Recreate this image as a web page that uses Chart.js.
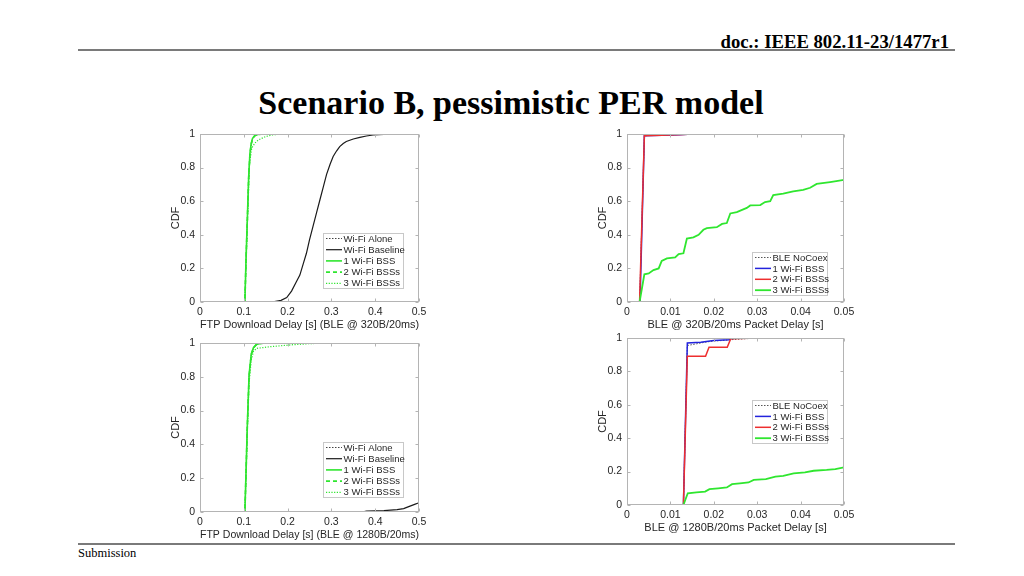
<!DOCTYPE html>
<html>
<head>
<meta charset="utf-8">
<script src="https://cdn.jsdelivr.net/npm/chart.js@4.4.1/dist/chart.umd.min.js"></script>
<style>
  html, body { margin: 0; padding: 0; background: #fff; }
  body { width: 1024px; height: 576px; position: relative; overflow: hidden; }
  .serif { font-family: "Liberation Serif", "Times New Roman", serif; color: #000; position: absolute; white-space: nowrap; line-height: 1; }
  .hdr { right: 75px; top: 33px; font-size: 18.7px; font-weight: bold; }
  .title { left: 511px; top: 86px; font-size: 34px; font-weight: bold; transform: translateX(-50%); }
  .foot { left: 78px; top: 547px; font-size: 12.5px; }
  .rule { position: absolute; left: 78px; width: 877px; height: 2px; background: #7a7a7a; }
  canvas { position: absolute; }
</style>
</head>
<body>
<div class="serif hdr">doc.: IEEE 802.11-23/1477r1</div>
<div class="rule" style="top:49px"></div>
<div class="serif title">Scenario B, pessimistic PER model</div>
<div class="rule" style="top:543px"></div>
<div class="serif foot">Submission</div>

<canvas id="c1"></canvas>
<canvas id="c2"></canvas>
<canvas id="c3"></canvas>
<canvas id="c4"></canvas>

<script>
// ---------------- DATA ----------------
// Tick values / labels
const ftpTicks = [0, 0.1, 0.2, 0.3, 0.4, 0.5];
const ftpTickLabels = ['0', '0.1', '0.2', '0.3', '0.4', '0.5'];
const bleTicks = [0, 0.01, 0.02, 0.03, 0.04, 0.05];
const bleTickLabels = ['0', '0.01', '0.02', '0.03', '0.04', '0.05'];
const cdfTicks = [0, 0.2, 0.4, 0.6, 0.8, 1];
const cdfTickLabels = ['0', '0.2', '0.4', '0.6', '0.8', '1'];

// Series names
const ftpSeries = ['Wi-Fi Alone', 'Wi-Fi Baseline', '1 Wi-Fi BSS', '2 Wi-Fi BSSs', '3 Wi-Fi BSSs'];
const bleSeries = ['BLE NoCoex', '1 Wi-Fi BSS', '2 Wi-Fi BSSs', '3 Wi-Fi BSSs'];

// Axis titles
const xTitleTL = 'FTP Download Delay [s] (BLE @ 320B/20ms)';
const xTitleTR = 'BLE @ 320B/20ms Packet Delay [s]';
const xTitleBL = 'FTP Download Delay [s] (BLE @ 1280B/20ms)';
const xTitleBR = 'BLE @ 1280B/20ms Packet Delay [s]';
const yTitle = 'CDF';

// --- Top-left: FTP delay, BLE @ 320B/20ms ---
const tlAloneX = [0, 0.1025, 0.105, 0.108, 0.111, 0.114, 0.117, 0.12, 0.125, 0.132, 0.145, 0.5];
const tlAloneY = [0, 0, 0.24, 0.48, 0.72, 0.87, 0.94, 0.97, 0.99, 0.997, 1, 1];
const tlBaseX = [0, 0.15, 0.17, 0.185, 0.198, 0.209, 0.22, 0.228, 0.236, 0.243, 0.25, 0.258, 0.266, 0.274, 0.282, 0.289, 0.297, 0.304, 0.312, 0.319, 0.327, 0.334, 0.35, 0.365, 0.38, 0.395, 0.42, 0.44, 0.5];
const tlBaseY = [0, 0, 0.003, 0.01, 0.026, 0.065, 0.12, 0.16, 0.23, 0.29, 0.37, 0.45, 0.53, 0.61, 0.69, 0.76, 0.82, 0.866, 0.9, 0.925, 0.943, 0.955, 0.97, 0.98, 0.988, 0.994, 0.998, 1, 1];
const tl1X = [0, 0.1025, 0.105, 0.108, 0.111, 0.114, 0.117, 0.12, 0.125, 0.132, 0.145, 0.5];
const tl1Y = [0, 0, 0.25, 0.49, 0.74, 0.885, 0.945, 0.974, 0.99, 0.997, 1, 1];
const tl2X = [0, 0.1025, 0.105, 0.108, 0.111, 0.114, 0.117, 0.12, 0.125, 0.132, 0.145, 0.5];
const tl2Y = [0, 0, 0.24, 0.48, 0.73, 0.88, 0.94, 0.972, 0.99, 0.997, 1, 1];
const tl3X = [0, 0.1025, 0.105, 0.108, 0.113, 0.118, 0.125, 0.133, 0.149, 0.164, 0.19, 0.5];
const tl3Y = [0, 0, 0.22, 0.45, 0.82, 0.915, 0.945, 0.964, 0.984, 0.994, 1, 1];

// --- Top-right: BLE packet delay @ 320B/20ms ---
const trNoCoexX = [0, 0.0029, 0.004, 0.006, 0.01, 0.0146, 0.05];
const trNoCoexY = [0, 0, 0.99, 0.992, 0.995, 1, 1];
const tr1X = [0, 0.003, 0.004, 0.008, 0.012, 0.015, 0.05];
const tr1Y = [0, 0, 0.99, 0.993, 0.996, 1, 1];
const tr2X = [0, 0.0029, 0.004, 0.008, 0.013, 0.015, 0.05];
const tr2Y = [0, 0, 0.99, 0.993, 0.997, 1, 1];
const tr3X = [0, 0.0029, 0.004, 0.005, 0.0061, 0.0073, 0.008, 0.0092, 0.0111, 0.0119, 0.013, 0.0138, 0.0153, 0.0165, 0.0176, 0.0184, 0.0207, 0.0219, 0.023, 0.0238, 0.0253, 0.0276, 0.0284, 0.0307, 0.0318, 0.033, 0.0337, 0.036, 0.0383, 0.0406, 0.0422, 0.0437, 0.0468, 0.05];
const tr3Y = [0, 0, 0.165, 0.17, 0.19, 0.2, 0.245, 0.26, 0.265, 0.285, 0.29, 0.378, 0.385, 0.4, 0.43, 0.44, 0.445, 0.465, 0.47, 0.527, 0.535, 0.56, 0.575, 0.577, 0.595, 0.6, 0.636, 0.645, 0.658, 0.668, 0.68, 0.703, 0.714, 0.727];

// --- Bottom-left: FTP delay, BLE @ 1280B/20ms ---
const blAloneX = [0, 0.1025, 0.105, 0.108, 0.112, 0.117, 0.122, 0.128, 0.135, 0.15, 0.5];
const blAloneY = [0, 0, 0.22, 0.5, 0.8, 0.93, 0.97, 0.988, 0.996, 1, 1];
const blBaseX = [0, 0.37, 0.38, 0.42, 0.45, 0.465, 0.475, 0.49, 0.5];
const blBaseY = [0, 0, 0.005, 0.008, 0.014, 0.02, 0.03, 0.045, 0.055];
const bl1X = [0, 0.1025, 0.105, 0.108, 0.112, 0.117, 0.122, 0.128, 0.135, 0.15, 0.5];
const bl1Y = [0, 0, 0.23, 0.51, 0.81, 0.935, 0.972, 0.99, 0.997, 1, 1];
const bl2X = [0, 0.1025, 0.105, 0.108, 0.112, 0.117, 0.122, 0.128, 0.135, 0.15, 0.5];
const bl2Y = [0, 0, 0.22, 0.5, 0.8, 0.93, 0.97, 0.988, 0.996, 1, 1];
const bl3X = [0, 0.1025, 0.105, 0.108, 0.112, 0.117, 0.122, 0.129, 0.16, 0.213, 0.25, 0.29, 0.5];
const bl3Y = [0, 0, 0.2, 0.47, 0.76, 0.9, 0.95, 0.968, 0.978, 0.99, 0.996, 1, 1];

// --- Bottom-right: BLE packet delay @ 1280B/20ms ---
const brNoCoexX = [0, 0.013, 0.0139, 0.016, 0.018, 0.02, 0.022, 0.024, 0.027, 0.03, 0.05];
const brNoCoexY = [0, 0, 0.955, 0.965, 0.975, 0.982, 0.985, 0.99, 0.995, 1, 1];
const br1X = [0, 0.013, 0.0139, 0.017, 0.02, 0.0235, 0.024, 0.026, 0.05];
const br1Y = [0, 0, 0.97, 0.975, 0.985, 0.99, 0.997, 1, 1];
const br2X = [0, 0.013, 0.0139, 0.0181, 0.0189, 0.0231, 0.0239, 0.03, 0.05];
const br2Y = [0, 0, 0.89, 0.89, 0.945, 0.945, 0.995, 1, 1];
const br3X = [0, 0.013, 0.014, 0.016, 0.018, 0.019, 0.021, 0.023, 0.0242, 0.026, 0.028, 0.0292, 0.032, 0.0342, 0.036, 0.0384, 0.041, 0.043, 0.046, 0.048, 0.05];
const br3Y = [0, 0, 0.07, 0.075, 0.08, 0.095, 0.1, 0.105, 0.125, 0.13, 0.135, 0.15, 0.155, 0.17, 0.175, 0.19, 0.195, 0.205, 0.21, 0.215, 0.225];

// ---------------- STYLE / LAYOUT ----------------
const FONT = '"Liberation Sans", Arial, Helvetica, sans-serif';
const TXT = '#262626';
const FRAME = '#b4b4b4';
const GREEN = '#2fe62f';
const BLUE = '#2323dc';
const RED = '#ee2e2e';

const ftpStyles = [
  { borderColor: '#444444', borderWidth: 1, borderDash: [1.5, 1.5] },
  { borderColor: '#1a1a1a', borderWidth: 1.2, borderDash: [] },
  { borderColor: GREEN, borderWidth: 1.6, borderDash: [] },
  { borderColor: GREEN, borderWidth: 1.6, borderDash: [4, 3] },
  { borderColor: GREEN, borderWidth: 1.2, borderDash: [1.2, 1.5] }
];
const bleStyles = [
  { borderColor: '#555555', borderWidth: 1, borderDash: [1.5, 1.5] },
  { borderColor: BLUE, borderWidth: 1.5, borderDash: [] },
  { borderColor: RED, borderWidth: 1.5, borderDash: [] },
  { borderColor: GREEN, borderWidth: 1.8, borderDash: [] }
];

const Y_W = 34, PT = 12, PR = 16, X_H = 32;

function pts(xs, ys) { return xs.map((x, i) => ({ x: x, y: ys[i] })); }

const framePlugin = {
  id: 'matlabFrame',
  afterDatasetsDraw(chart, args, opts) {
    const { ctx, chartArea: a, scales } = chart;
    ctx.save();
    ctx.strokeStyle = FRAME;
    ctx.lineWidth = 1;
    ctx.setLineDash([]);
    const L = Math.round(a.left) + 0.5, R = Math.round(a.right) - 0.5;
    const T = Math.round(a.top) + 0.5, B = Math.round(a.bottom) - 0.5;
    ctx.strokeRect(L, T, R - L, B - T);
    const tl = 3;
    ctx.beginPath();
    scales.x.ticks.forEach(t => {
      const px = Math.round(scales.x.getPixelForValue(t.value)) + 0.5;
      ctx.moveTo(px, B); ctx.lineTo(px, B - tl);
      ctx.moveTo(px, T); ctx.lineTo(px, T + tl);
    });
    scales.y.ticks.forEach(t => {
      const py = Math.round(scales.y.getPixelForValue(t.value)) + 0.5;
      ctx.moveTo(L, py); ctx.lineTo(L + tl, py);
      ctx.moveTo(R, py); ctx.lineTo(R - tl, py);
    });
    ctx.stroke();

    // MATLAB-style legend inside the axes
    const lg = opts.legend;
    if (lg) {
      const bx = Math.round(a.left + lg.x) + 0.5, by = Math.round(a.top + lg.y) + 0.5;
      ctx.fillStyle = '#ffffff';
      ctx.fillRect(bx, by, lg.w, lg.h);
      ctx.strokeStyle = '#c8c8c8';
      ctx.lineWidth = 1;
      ctx.strokeRect(bx, by, lg.w, lg.h);
      ctx.font = lg.fontSize + 'px ' + FONT;
      ctx.textBaseline = 'middle';
      ctx.textAlign = 'left';
      chart.data.datasets.forEach((ds, i) => {
        const cy = by + lg.first + i * lg.row;
        ctx.strokeStyle = ds.borderColor;
        ctx.lineWidth = ds.borderWidth;
        ctx.setLineDash(ds.borderDash || []);
        ctx.beginPath();
        ctx.moveTo(bx + 2.5, cy);
        ctx.lineTo(bx + 18.5, cy);
        ctx.stroke();
        ctx.setLineDash([]);
        ctx.fillStyle = TXT;
        ctx.fillText(ds.label, bx + 20, cy + 0.5);
      });
    }
    ctx.restore();
  }
};

function makeChart(id, rect, xTicks, xLabels, xTitle, names, styles, series, legend) {
  const cv = document.getElementById(id);
  const w = (rect[2] - rect[0]) + Y_W + PR;
  const h = (rect[3] - rect[1]) + PT + X_H;
  cv.width = w; cv.height = h;
  cv.style.left = (rect[0] - Y_W) + 'px';
  cv.style.top = (rect[1] - PT) + 'px';
  cv.style.width = w + 'px';
  cv.style.height = h + 'px';
  const n = names.length;
  const datasets = names.map((name, i) => Object.assign({
    label: name,
    data: pts(series[i][0], series[i][1]),
    pointRadius: 0,
    tension: 0,
    fill: false,
    order: n - i
  }, styles[i]));
  return new Chart(cv, {
    type: 'line',
    data: { datasets: datasets },
    options: {
      responsive: false,
      animation: false,
      devicePixelRatio: 1,
      layout: { padding: { left: 0, top: PT, right: PR, bottom: 0 } },
      plugins: {
        legend: { display: false },
        tooltip: { enabled: false },
        matlabFrame: { legend: legend }
      },
      scales: {
        x: {
          type: 'linear',
          min: xTicks[0], max: xTicks[xTicks.length - 1],
          afterBuildTicks: s => { s.ticks = xTicks.map(v => ({ value: v })); },
          afterFit: s => { s.height = X_H; },
          grid: { display: false, drawTicks: false, tickLength: 0 },
          border: { display: false },
          ticks: {
            callback: (v, i) => xLabels[i],
            font: { family: FONT, size: 10.5 },
            color: TXT, padding: 4, maxRotation: 0, autoSkip: false
          },
          title: {
            display: true, text: xTitle,
            font: { family: FONT, size: 11 }, color: TXT,
            padding: { top: 0, bottom: 2 }
          }
        },
        y: {
          type: 'linear',
          min: 0, max: 1,
          afterBuildTicks: s => { s.ticks = cdfTicks.map(v => ({ value: v })); },
          afterFit: s => { s.width = Y_W; },
          grid: { display: false, drawTicks: false, tickLength: 0 },
          border: { display: false },
          ticks: {
            callback: (v, i) => cdfTickLabels[i],
            font: { family: FONT, size: 10.5 },
            color: TXT, padding: 5, autoSkip: false
          },
          title: {
            display: true, text: yTitle,
            font: { family: FONT, size: 11 }, color: TXT,
            padding: { top: 3, bottom: 3 }
          }
        }
      }
    },
    plugins: [framePlugin]
  });
}

makeChart('c1', [200, 134, 419, 302], ftpTicks, ftpTickLabels, xTitleTL, ftpSeries, ftpStyles,
  [[tlAloneX, tlAloneY], [tlBaseX, tlBaseY], [tl1X, tl1Y], [tl2X, tl2Y], [tl3X, tl3Y]],
  { x: 123, y: 99, w: 80, h: 55, first: 5, row: 11.2, fontSize: 9.5 });

makeChart('c2', [627, 134, 844, 302], bleTicks, bleTickLabels, xTitleTR, bleSeries, bleStyles,
  [[trNoCoexX, trNoCoexY], [tr1X, tr1Y], [tr2X, tr2Y], [tr3X, tr3Y]],
  { x: 125, y: 118, w: 75, h: 43, first: 5, row: 10.9, fontSize: 9.5 });

makeChart('c3', [200, 343, 419, 512], ftpTicks, ftpTickLabels, xTitleBL, ftpSeries, ftpStyles,
  [[blAloneX, blAloneY], [blBaseX, blBaseY], [bl1X, bl1Y], [bl2X, bl2Y], [bl3X, bl3Y]],
  { x: 123, y: 99, w: 80, h: 55, first: 5, row: 11.2, fontSize: 9.5 });

makeChart('c4', [627, 338, 844, 505], bleTicks, bleTickLabels, xTitleBR, bleSeries, bleStyles,
  [[brNoCoexX, brNoCoexY], [br1X, br1Y], [br2X, br2Y], [br3X, br3Y]],
  { x: 125, y: 62, w: 75, h: 43, first: 5, row: 10.9, fontSize: 9.5 });
</script>
</body>
</html>
